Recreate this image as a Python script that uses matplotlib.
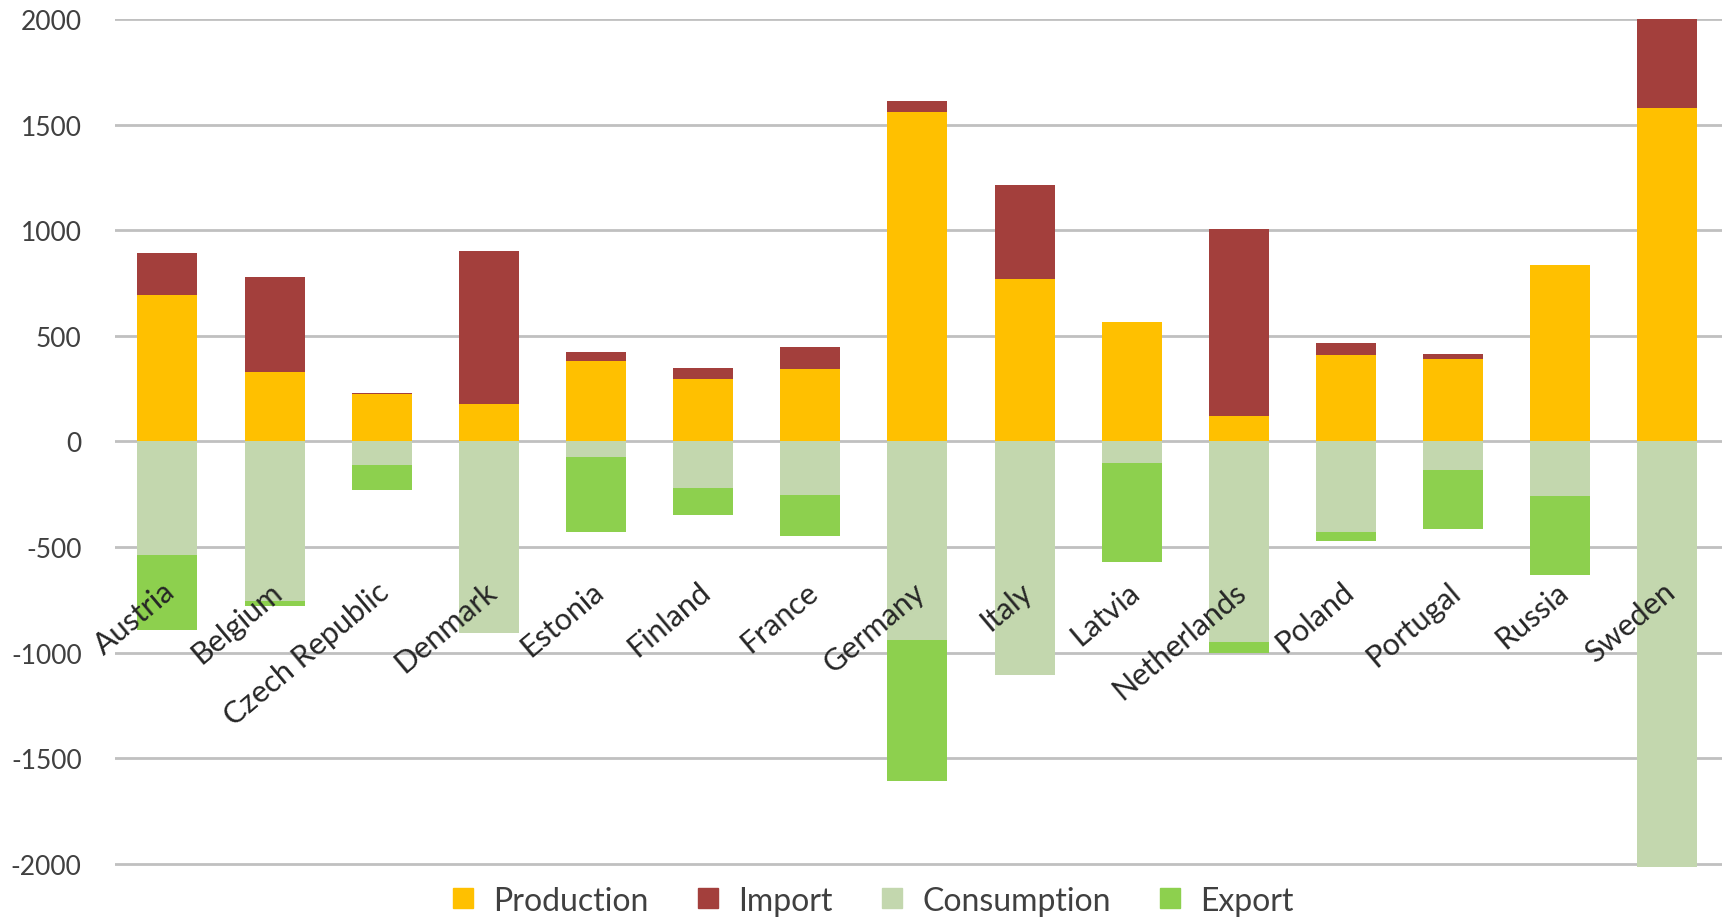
import numpy as np
import matplotlib
matplotlib.use("Agg")
import matplotlib.pyplot as plt
from matplotlib.lines import Line2D

countries = ["Austria", "Belgium", "Czech Republic", "Denmark", "Estonia",
             "Finland", "France", "Germany", "Italy", "Latvia",
             "Netherlands", "Poland", "Portugal", "Russia", "Sweden"]
production = [695, 328, 225, 177, 380, 297, 345, 1559, 771, 566,
              119, 407, 392, 835, 1577]
imports = [196, 450, 5, 725, 44, 51, 101, 52, 443, 0,
           886, 60, 24, 0, 423]
consumption = [536, 757, 110, 907, 76, 221, 252, 938, 1104, 103,
               951, 429, 134, 257, 2015]
exports = [358, 24, 122, 0, 355, 126, 194, 671, 0, 468,
           51, 44, 281, 374, 0]

series_names = ["Production", "Import", "Consumption", "Export"]
series_colors = ["#FFC000", "#A33F3C", "#C3D7AE", "#8DD04E"]

plt.rcParams['font.family'] = ['Lato', 'DejaVu Sans']

fig = plt.figure(figsize=(17.29, 9.2), dpi=100)
ax = fig.add_axes([0.0665, 0.053, 0.9295, 0.9253])

x = np.arange(len(countries))
prod = np.array(production)
imp = np.array(imports)
cons = -np.array(consumption)
exp_ = -np.array(exports)
w = 0.56

ax.bar(x, prod, w, color=series_colors[0], zorder=3)
ax.bar(x, imp, w, bottom=prod, color=series_colors[1], zorder=3)
ax.bar(x, cons, w, color=series_colors[2], zorder=3)
ax.bar(x, exp_, w, bottom=cons, color=series_colors[3], zorder=3)

ax.set_xlim(-0.49, 14.51)
ax.set_ylim(-2030, 2000)
ax.set_yticks(np.arange(-2000, 2001, 500))
ax.set_yticklabels([str(v) for v in range(-2000, 2001, 500)],
                   fontsize=19, color="#404040")
ax.set_xticks([])
ax.tick_params(axis="y", length=0, pad=24)
for s in ax.spines.values():
    s.set_visible(False)
ax.yaxis.grid(True, color="#C0C0C0", lw=2, zorder=0)

for i, name in enumerate(countries):
    ax.text(i - 0.05, -640, name, rotation=40, ha="right", va="top",
            rotation_mode="anchor", fontsize=22, color="#262626", zorder=5)

handles = [Line2D([], [], marker="s", ls="", ms=14, color=c)
           for c in series_colors]
fig.legend(handles, series_names, loc="center", bbox_to_anchor=(0.503, 0.02),
           ncol=4, frameon=False, fontsize=23, handletextpad=0.4,
           handlelength=1.1, columnspacing=1.3, labelcolor="#404040")

fig.savefig("out.png", dpi=100)
